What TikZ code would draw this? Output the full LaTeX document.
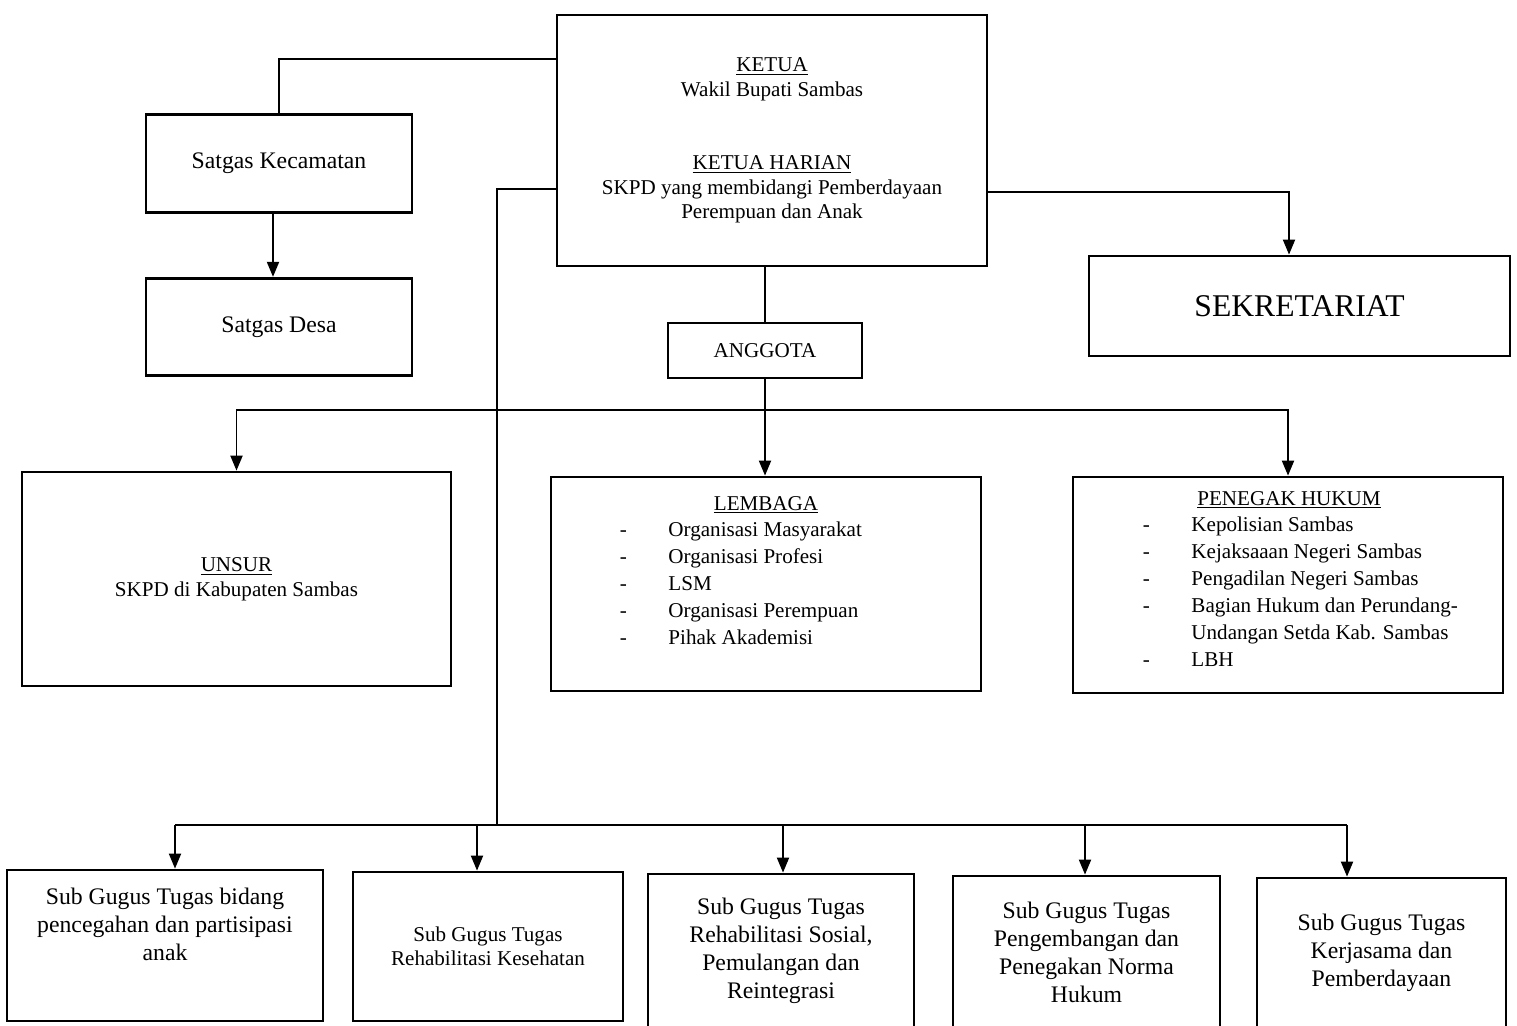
\documentclass[tikz,border=0pt]{standalone}
\usepackage{fontspec}
\setmainfont{Liberation Serif}
\usetikzlibrary{arrows.meta}
\tikzset{
  orgbox/.style={draw, line width=1.6pt, align=center, inner sep=2pt, font=\fontsize{12}{14}\selectfont},
  satbox/.style={orgbox, font=\fontsize{13.5}{16}\selectfont, minimum width=5.32cm, minimum height=1.95cm},
  subbox/.style={orgbox, font=\fontsize{13.5}{15.9}\selectfont},
  subtxt/.style={align=center, font=\fontsize{13.5}{15.9}\selectfont},
  head/.style={inner sep=0pt, font=\fontsize{12}{14}\selectfont},
  lbl/.style={align=left, inner sep=0pt, font=\fontsize{12}{15.3}\selectfont},
  arr/.style={-{Triangle[width=0.24cm,length=0.3cm]}}
}
\newcommand{\dashitem}[1]{\makebox[0.97cm][l]{-}#1}

\begin{document}
\begin{tikzpicture}[x=0.02cm, y=-0.02cm, line width=1.1pt]
  \useasboundingbox (0,0) rectangle (1517,1025);
  \node[orgbox, minimum width=8.6cm, minimum height=5.02cm] (ketua) at (772,140.5)
    {\underline{KETUA}\\Wakil Bupati Sambas\\[27.6pt]\underline{KETUA HARIAN}\\SKPD yang membidangi Pemberdayaan\\Perempuan dan Anak};
  \node[satbox] (kec) at (279,163.5) {Satgas Kecamatan};
  \node[satbox] (desa) at (279,327) {Satgas Desa};
  \node[orgbox, font=\fontsize{18}{20}\selectfont, minimum width=8.42cm, minimum height=2cm] (sekre) at (1299.5,306) {SEKRETARIAT};
  \node[orgbox, minimum width=3.88cm, minimum height=1.1cm] (anggota) at (765,350.5) {ANGGOTA};

  \node[orgbox, minimum width=8.58cm, minimum height=4.28cm] (unsur) at (236.5,579) {\underline{UNSUR}\\SKPD di Kabupaten Sambas};
  \node[orgbox, minimum width=8.6cm, minimum height=4.28cm] (lembaga) at (766,584) {};
  \node[head] (lembagah) at (766,505) {\underline{LEMBAGA}};
  \node[lbl, anchor=west] (lembagal) at (619,583.5)
    {\dashitem{Organisasi Masyarakat}\\\dashitem{Organisasi Profesi}\\\dashitem{LSM}\\\dashitem{Organisasi Perempuan}\\\dashitem{Pihak Akademisi}};
  \node[orgbox, minimum width=8.6cm, minimum height=4.32cm] (penegak) at (1288,585) {};
  \node[head] (penegakh) at (1289,500) {\underline{PENEGAK HUKUM}};
  \node[lbl, anchor=west] (penegakl) at (1142,591.5)
    {\dashitem{Kepolisian Sambas}\\\dashitem{Kejaksaaan Negeri Sambas}\\\dashitem{Pengadilan Negeri Sambas}\\\dashitem{Bagian Hukum dan Perundang-}\\\hspace*{0.97cm}Undangan Setda Kab. Sambas\\\dashitem{LBH}};

  \node[subbox, minimum width=6.32cm, minimum height=3.02cm,
    label={[subtxt, yshift=0.43cm]center:{Sub Gugus Tugas bidang\\pencegahan dan partisipasi\\anak}}] (sub1) at (165,945.5) {};
  \node[subbox, font=\fontsize{12}{13.8}\selectfont, minimum width=5.4cm, minimum height=2.98cm] (sub2) at (488,946.5) {Sub Gugus Tugas\\Rehabilitasi Kesehatan};
  \node[subbox, minimum width=5.32cm, minimum height=3.08cm] (sub3) at (781,951) {Sub Gugus Tugas\\Rehabilitasi Sosial,\\Pemulangan dan\\Reintegrasi};
  \node[subbox, minimum width=5.34cm, minimum height=3.04cm] (sub4) at (1086.5,952) {Sub Gugus Tugas\\Pengembangan  dan\\Penegakan Norma\\Hukum};
  \node[subbox, minimum width=4.98cm, minimum height=3cm] (sub5) at (1381.5,953) {Sub Gugus Tugas\\Kerjasama dan\\Pemberdayaan};

  \draw ([yshift=-0.9cm]ketua.north west) -| (kec.north);
  \draw[arr] ([xshift=-0.12cm]kec.south) -- ([xshift=-0.12cm]desa.north);
  \draw[arr] ([yshift=-3.56cm]ketua.north east) -| ([xshift=-0.21cm]sekre.north);
  \draw (anggota.north |- ketua.south) -- (anggota.north);

  \coordinate (anggotabus) at (760,410);
  \draw[arr] (anggota.south) -- (anggota.south |- lembaga.north);
  \draw[arr] (anggotabus) -| (unsur.north);
  \draw[arr] (anggotabus) -| (penegak.north);

  \coordinate (gugus) at (497,825);
  \draw ([yshift=-3.5cm]ketua.north west) -| (gugus);
  \draw (175,825) -- (1347,825);
  \foreach \s/\x in {sub1/175, sub2/477, sub3/783, sub4/1085, sub5/1347}
    \draw[arr] (\x,825) -- (\x,825 |- \s.north);
\end{tikzpicture}
\end{document}
